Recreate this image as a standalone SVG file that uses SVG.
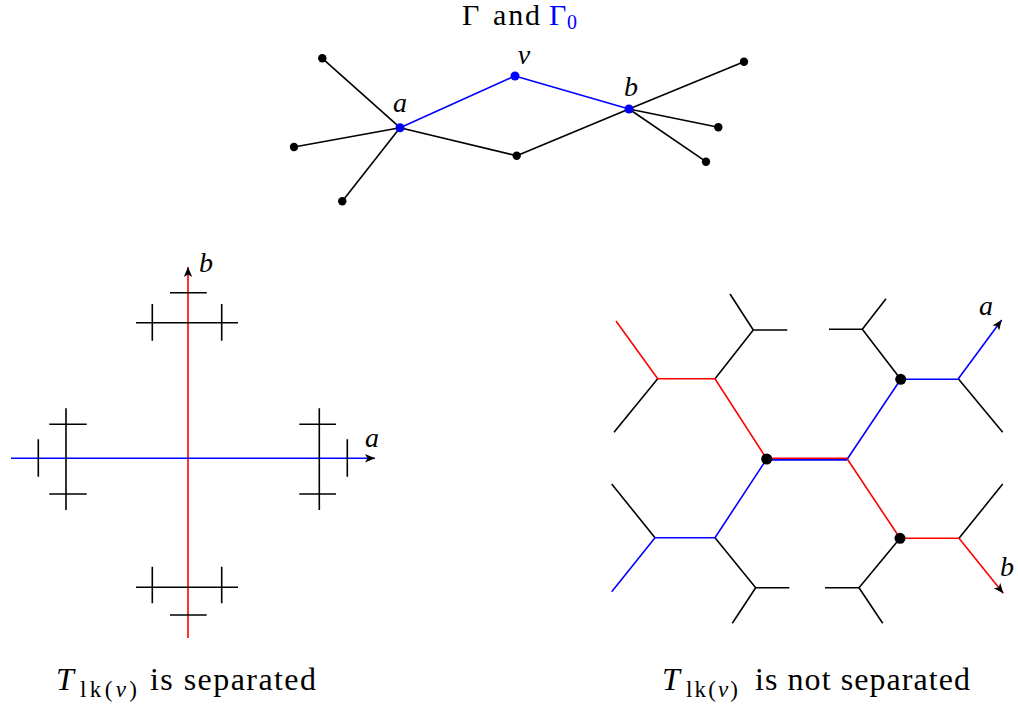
<svg xmlns="http://www.w3.org/2000/svg" width="1018" height="707" viewBox="0 0 1018 707">
<style>
.k{stroke:#000;stroke-width:1.6;fill:none;stroke-linecap:butt}
.bl{stroke:#0000ff;stroke-width:1.6;fill:none}
.rd{stroke:#ff0000;stroke-width:1.6;fill:none}
.t{font-family:"Liberation Serif","Times New Roman",serif;fill:#000}
.m{font-family:"Liberation Serif","Times New Roman",serif;font-style:italic;fill:#000}
.dk{fill:#000}
.db{fill:#0000ff}
</style>
<defs>
<marker id="ah" viewBox="-11 -5 12 10" refX="0" refY="0" markerWidth="12" markerHeight="10" markerUnits="userSpaceOnUse" orient="auto">
<path d="M0,0 L-10,-4.2 L-7.5,0 L-10,4.2 Z" fill="#000"/>
</marker>
</defs>
<rect width="1018" height="707" fill="#fff"/>

<g id="title">
<text class="t" x="462" y="25" font-size="30">Γ</text>
<text class="t" x="493" y="25" font-size="30" textLength="47" lengthAdjust="spacing">and</text>
<text class="t" x="549" y="25" font-size="30" style="fill:#0000ff">Γ</text>
<text class="t" x="567" y="29" font-size="20" style="fill:#0000ff">0</text>
</g>

<g id="connectors">
<line class="k" x1="400" y1="127.7" x2="322.3" y2="58.3"/>
<line class="k" x1="400" y1="127.7" x2="294" y2="147"/>
<line class="k" x1="400" y1="127.7" x2="342.3" y2="201.3"/>
<line class="k" x1="400" y1="127.7" x2="516.7" y2="155.7"/>
<line class="k" x1="516.7" y1="155.7" x2="629" y2="109"/>
<line class="k" x1="629" y1="109" x2="744" y2="61.7"/>
<line class="k" x1="629" y1="109" x2="718.3" y2="127.3"/>
<line class="k" x1="629" y1="109" x2="706" y2="161.7"/>
<line class="bl" x1="400" y1="127.7" x2="515" y2="76"/>
<line class="bl" x1="515" y1="76" x2="629" y2="109"/>
</g>

<g id="node-a"><circle class="db" cx="400" cy="127.7" r="4.5"/><text class="m" x="400" y="112" font-size="28" text-anchor="middle">a</text></g>
<g id="node-v"><circle class="db" cx="515" cy="76" r="4.5"/><text class="m" x="524" y="64" font-size="28" text-anchor="middle">v</text></g>
<g id="node-b"><circle class="db" cx="629" cy="109" r="4.5"/><text class="m" x="631" y="96" font-size="28" text-anchor="middle">b</text></g>
<g id="node-1"><circle class="dk" cx="322.3" cy="58.3" r="4.2"/></g>
<g id="node-2"><circle class="dk" cx="294" cy="147" r="4.2"/></g>
<g id="node-3"><circle class="dk" cx="342.3" cy="201.3" r="4.2"/></g>
<g id="node-4"><circle class="dk" cx="516.7" cy="155.7" r="4.2"/></g>
<g id="node-5"><circle class="dk" cx="744" cy="61.7" r="4.2"/></g>
<g id="node-6"><circle class="dk" cx="718.3" cy="127.3" r="4.2"/></g>
<g id="node-7"><circle class="dk" cx="706" cy="161.7" r="4.2"/></g>

<g id="tree-separated">
<line class="rd" x1="188" y1="638" x2="188" y2="267" marker-end="url(#ah)"/>
<line class="bl" x1="11" y1="458.3" x2="375" y2="458.3" marker-end="url(#ah)"/>
<path class="k" d="M170,292.7H206.7 M136,322.7H238 M152.3,304V340.7 M221.7,304V340.7"/>
<path class="k" d="M170,615H206.7 M136,587.3H238 M152.3,566.7V603.3 M221.7,566.7V603.3"/>
<path class="k" d="M66,408.3V510 M49.3,424.3H86.7 M49.3,494H86.7 M38.3,439.3V476.7"/>
<path class="k" d="M319.3,408.3V510 M299.3,424.3H336 M299.3,494H336 M347.3,439.3V476.7"/>
<text class="m" x="199" y="272" font-size="28">b</text>
<text class="m" x="365" y="447" font-size="28">a</text>
</g>

<g id="tree-not-separated">
<path class="k" d="M657.7,378.7L614,432.3"/>
<path class="k" d="M715,378.7L753.3,330L730,294 M753.3,330H787.3"/>
<path class="k" d="M900.7,379.3L862.3,329.3L886,298.7 M862.3,329.3H829"/>
<path class="k" d="M958.3,378.7L1002.7,432.3"/>
<path class="k" d="M655,537.7L611.7,484"/>
<path class="k" d="M715,537.7L755.7,587.7L732.3,623.3 M755.7,587.7H789.3"/>
<path class="k" d="M900,538.3L859,587.7L882.7,623.3 M859,587.7H825"/>
<path class="k" d="M959,538.3L1002.7,484"/>
<path class="rd" d="M616,321L657.7,378.7H715L766.7,459"/>
<line class="bl" x1="766.7" y1="459.9" x2="847.3" y2="459.9"/>
<line class="rd" x1="766.7" y1="458.3" x2="847.3" y2="458.3"/>
<path class="bl" d="M847.3,459L900.7,379.3H958.3"/>
<line class="bl" x1="958.3" y1="378.7" x2="1001.7" y2="320" marker-end="url(#ah)"/>
<path class="bl" d="M766.7,459L715,537.7H655L611.7,591.7"/>
<path class="rd" d="M847.3,459L900,538.3H959"/>
<line class="rd" x1="959" y1="538.3" x2="1003.3" y2="593.3" marker-end="url(#ah)"/>
<circle class="dk" cx="766.7" cy="459" r="5.5"/>
<circle class="dk" cx="900.7" cy="379.3" r="5.5"/>
<circle class="dk" cx="900" cy="538.3" r="5.5"/>
<text class="m" x="979" y="315" font-size="28">a</text>
<text class="m" x="1000" y="576" font-size="28">b</text>
</g>

<g id="caption-left">
<text class="m" x="56" y="690" font-size="32">T</text>
<text class="t" x="80" y="697" font-size="23" textLength="57" lengthAdjust="spacing">lk(<tspan font-style="italic">v</tspan>)</text>
<text class="t" x="150" y="690" font-size="32" textLength="166" lengthAdjust="spacing">is separated</text>
</g>
<g id="caption-right">
<text class="m" x="662" y="690" font-size="32">T</text>
<text class="t" x="686" y="697" font-size="23" textLength="52" lengthAdjust="spacing">lk(<tspan font-style="italic">v</tspan>)</text>
<text class="t" x="755" y="690" font-size="32" textLength="215" lengthAdjust="spacing">is not separated</text>
</g>
</svg>
